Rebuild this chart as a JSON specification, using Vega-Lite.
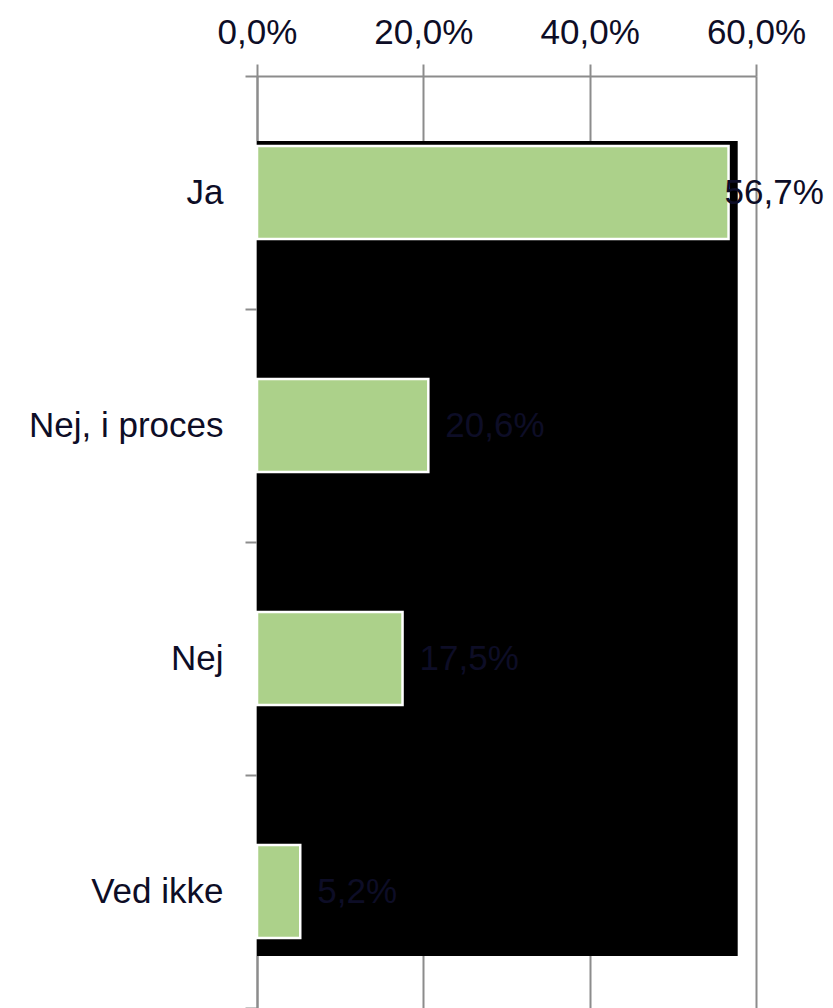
{
  "$schema": "https://vega.github.io/schema/vega-lite/v6.json",
  "width": 499,
  "height": 932,
  "autosize": {"type": "none"},
  "padding": {"left": 257, "top": 76, "right": 77, "bottom": 0},
  "background": "white",
  "config": {
    "view": {"stroke": null},
    "font": "Liberation Sans",
    "locale": {"number": {"decimal": ",", "thousands": ".", "grouping": [3], "currency": ["", " kr."]}}
  },
  "resolve": {"scale": {"y": "independent"}},
  "layer": [
    {
      "data": {"values": [{"x0": 0, "x1": 0.578, "y0": 0.279, "y1": 3.777}]},
      "mark": {"type": "rect", "color": "black"},
      "encoding": {
        "x": {"field": "x0", "type": "quantitative", "scale": {"domain": [0, 0.6]}},
        "x2": {"field": "x1"},
        "y": {"field": "y0", "type": "quantitative", "scale": {"domain": [0, 4], "reverse": true, "nice": false, "zero": false}, "axis": null},
        "y2": {"field": "y1"}
      }
    },
    {
      "data": {"values": [
        {"svar": "Ja", "pct": 0.567},
        {"svar": "Nej, i proces", "pct": 0.206},
        {"svar": "Nej", "pct": 0.175},
        {"svar": "Ved ikke", "pct": 0.052}
      ]},
      "encoding": {
        "y": {
          "field": "svar", "type": "nominal", "sort": null,
          "scale": {"paddingInner": 0, "paddingOuter": 0},
          "axis": {
            "title": null, "tickBand": "extent", "tickSize": 12, "tickColor": "#8c8c8c", "tickWidth": 2,
            "domainColor": "#8c8c8c", "domainWidth": 2, "labelFont": "Liberation Sans", "labelFontSize": 35,
            "labelColor": "#0d0d26", "labelPadding": 22, "labelLimit": 0
          }
        },
        "x": {
          "field": "pct", "type": "quantitative", "scale": {"domain": [0, 0.6]},
          "axis": {
            "orient": "top", "title": null, "values": [0, 0.2, 0.4, 0.6], "format": ".1%",
            "tickSize": 12, "tickColor": "#8c8c8c", "tickWidth": 2,
            "domainColor": "#8c8c8c", "domainWidth": 2,
            "grid": true, "gridColor": "#8c8c8c", "gridWidth": 2,
            "labelFont": "Liberation Sans", "labelFontSize": 35, "labelColor": "#0d0d26",
            "labelPadding": 14, "labelFlush": false
          }
        }
      },
      "layer": [
        {"mark": {"type": "bar", "color": "#acd18a", "stroke": "white", "strokeWidth": 2.5, "height": {"band": 0.4}}},
        {
          "transform": [{"filter": "datum.pct < 0.5"}],
          "mark": {"type": "text", "align": "left", "baseline": "middle", "dx": 17, "fontSize": 35, "color": "#0d0d26", "font": "Liberation Sans"},
          "encoding": {"text": {"field": "pct", "type": "quantitative", "format": ".1%"}}
        },
        {
          "transform": [{"filter": "datum.pct >= 0.5"}],
          "mark": {"type": "text", "align": "left", "baseline": "middle", "dx": -4, "fontSize": 35, "color": "#0d0d26", "font": "Liberation Sans"},
          "encoding": {"text": {"field": "pct", "type": "quantitative", "format": ".1%"}}
        }
      ]
    }
  ]
}
